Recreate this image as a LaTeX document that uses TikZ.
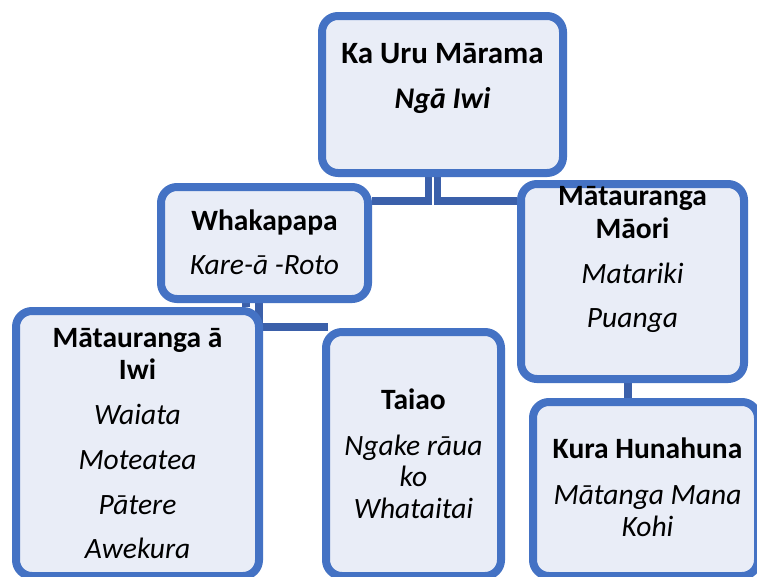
\documentclass[tikz,border=0pt]{standalone}
\usepackage{fontspec}
\setmainfont{Carlito}
\usetikzlibrary{backgrounds}
\definecolor{bord}{RGB}{68,114,196}
\definecolor{boxfill}{RGB}{233,237,247}
\definecolor{conncol}{RGB}{59,96,170}
\tikzset{
  box/.style={draw=bord, fill=boxfill, line width=8pt, rounded corners=16pt, inner sep=0pt},
  conn/.style={draw=conncol, line width=7.5pt},
  bt/.style={font=\fontsize{29.5}{32}\selectfont\bfseries, anchor=base, inner sep=0pt},
  it/.style={font=\fontsize{29.5}{32}\selectfont\itshape, anchor=base, inner sep=0pt},
  bit/.style={font=\fontsize{30}{32}\selectfont\bfseries\itshape, anchor=base, inner sep=0pt},
  ttl/.style={font=\fontsize{31}{32}\selectfont\bfseries, anchor=base, inner sep=0pt},
}
\begin{document}
\begin{tikzpicture}[x=1pt,y=-1pt]
\useasboundingbox (0,0) rectangle (757,576);
\clip (0,0) rectangle (757,576);
% boxes
\node[box, minimum width=241pt, minimum height=157pt] (top) at (442.5,94.5) {};
\node[box, minimum width=207pt, minimum height=112pt] (whaka) at (264.5,243) {};
\node[box, minimum width=223pt, minimum height=195pt] (maori) at (632.5,281.5) {};
\node[box, minimum width=243pt, minimum height=265pt] (iwi) at (137.5,443.5) {};
\node[box, minimum width=175pt, minimum height=244pt] (taiao) at (413.5,454) {};
\node[box, minimum width=225pt, minimum height=174pt] (kura) at (645.5,489) {};
% texts
\node[ttl] (t1a) at (442.5,63) {Ka Uru Mārama};
\node[bit] (t1b) at (442.5,108) {Ngā Iwi};
\node[bt]  (t2a) at (264.5,230) {Whakapapa};
\node[it]  (t2b) at (264.5,274) {Kare-ā -Roto};
\node[bt]  (t3a) at (632.5,205) {Mātauranga};
\node[bt]  (t3b) at (632.5,238) {Māori};
\node[it]  (t3c) at (632.5,283) {Matariki};
\node[it]  (t3d) at (632.5,327) {Puanga};
\node[bt]  (t4a) at (137.5,347) {Mātauranga ā};
\node[bt]  (t4b) at (137.5,379) {Iwi};
\node[it]  (t4c) at (137.5,424) {Waiata};
\node[it]  (t4d) at (137.5,469) {Moteatea};
\node[it]  (t4e) at (137.5,514) {Pātere};
\node[it]  (t4f) at (137.5,558) {Awekura};
\node[bt]  (t5a) at (413.5,409) {Taiao};
\node[it]  (t5b) at (413.5,455) {Ngake rāua};
\node[it]  (t5c) at (413.5,486) {ko};
\node[it]  (t5d) at (413.5,518) {Whataitai};
\node[bt]  (t6a) at (647.5,458) {Kura Hunahuna};
\node[it]  (t6b) at (647.5,504) {Mātanga Mana};
\node[it]  (t6c) at (647.5,536) {Kohi};
% connectors
\coordinate (jL) at (428.7,201);
\coordinate (jR) at (437.7,201);
\coordinate (w1) at (246,0);
\coordinate (w2) at (259,327);
\coordinate (m1) at (628,0);
\begin{pgfonlayer}{background}
\fill[white] (0,0) rectangle (757,576);
\draw[conn] (top.south -| jL) -- (jL) -- (whaka.east |- jL);
\draw[conn] (top.south -| jR) -- (jR) -- (maori.west |- jR);
\draw[conn] (whaka.south -| w1) -- (iwi.north -| w1);
\draw[conn] (whaka.south -| w2) -- (w2) -- ([xshift=6pt]taiao.west |- w2);
\draw[conn] (maori.south -| m1) -- (kura.north -| m1);
\end{pgfonlayer}
\end{tikzpicture}
\end{document}
